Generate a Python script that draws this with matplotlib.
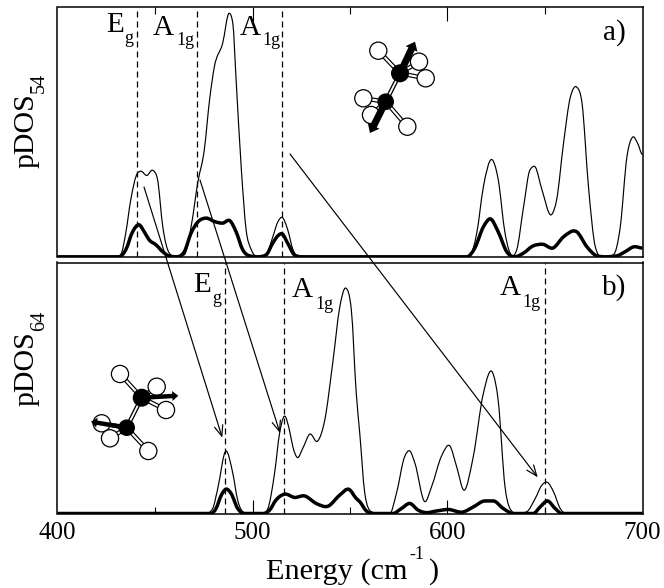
import numpy as np
import matplotlib
matplotlib.use("Agg")
import matplotlib.pyplot as plt
from matplotlib.path import Path
from matplotlib.patches import PathPatch, Circle

plt.rcParams['font.family'] = ['Liberation Serif', 'DejaVu Serif']

# ---- data ----
a_thin_x = [400,430,432.5,435,437.6,441,442.8,445.7,449,451.3,454,457.3,460.8,465,468.5,472,475.3,478,480.4,484.7,488,489.9,491.6,494.2,496.7,499.3,502.7,507,510.4,513,515.2,518,520.7,524,608,611.5,615,618.4,622.7,626,629.5,633,635.5,639,642.4,645,648.4,653.5,656,659.5,663,666.3,669,672.3,675.8,679,685,688.6,692,695,697.5,700]
a_thin_y = [0,0,1,9.5,23,33.5,34.3,32.6,34.6,31,12,1.5,0,0.8,12,30,43,63,76,85.6,97.6,93.6,70.9,36,11,3,0,0.8,8,14,15.8,11,3,0,0,0.6,9.5,28,39,31,9.5,0.4,2.8,20,35,36,27,17,23,45.5,64,68,61.5,28,4,0,0.8,12,40,48,45.5,41]
a_thick_x = [400,431.6,435,438.5,441.9,444.5,447,450.5,454,457,461,465,468.5,472,476,481,484.7,488.5,491.6,495,498.4,503,507,510.4,513,515.2,518,521.5,525,610,614,618.4,622,626,630.4,634.6,639,644,649,654,659.5,666.3,671.5,676.6,681,687,691,695.5,700]
a_thick_y = [0,0,2.8,10,12.8,10,6.8,4.8,2,0.4,0,2,9.5,14,15.5,14,13.5,14.4,10,2.8,0.4,0,0.8,5.5,8.4,9.2,5.5,0.8,0,0,3.5,12,15.2,10,2,0,1.5,4.4,5,3.5,8,10,4,0.4,0,0.4,2,4,3.5]
b_thin_x = [400,476,479.6,482,486.4,489.9,492.4,495.9,499.3,505.3,507.9,511.3,513.9,516.4,519,520.7,523,525.8,529.3,533.5,537,541.3,544.7,547.8,550.7,553.2,555,557.6,561,565.3,570.4,573.8,578,580.7,583.3,588.4,591.8,597,601.2,604.7,608.4,613.2,618.4,623.2,626,629.5,632,635.5,640.6,645,648.4,651.3,654.4,657.8,661,700]
b_thin_y = [0,0,2,9.3,24.9,16,5.3,0.3,0,0,2,16,32,38.8,33,26.6,22.3,26,31.6,28.9,37,61,82,89.8,81,48,32,8,0.7,0,0,8,22.6,24.9,20,4.7,10.6,23,26.9,18.6,9.3,22.6,47.9,56,45,10.6,2,0,0.7,6,11.3,12.4,8.6,2,0,0]
b_thick_x = [400,478.7,481.3,484,486.4,489,492.4,495.9,505.3,508.7,512,516.4,521.6,526.7,532.7,538.7,544.7,549.5,553.2,555,558.4,561.9,572,576.4,580.7,585,588.4,594.4,600.4,608,613.2,619.2,623.5,628.6,633.8,644,647.5,651.3,655.2,658.6,700]
b_thick_y = [0,0,2,7.3,9.7,8,2,0,0,1.3,5.3,7.7,6.4,7,4,2.9,7.3,9.6,6,4.7,1,0,0,2,4,1.3,0.4,1,1.6,0.6,2.6,5,5,2,0,0,2.6,5,2,0,0]
a_modes = [441, 471.6, 515.2]
b_modes = [486, 516, 650]
major_ticks = [500, 600]
minor_ticks = [450, 550, 650]
tick_labels = ['400', '500', '600', '700']
tick_values = [400, 500, 600, 700]


def smooth(x, y):
    """Bezier path through the read points (smooth parabolic tangents, limited)."""
    x = np.asarray(x, float); y = np.asarray(y, float)
    h = np.diff(x); d = np.diff(y) / h
    m = np.zeros_like(x)
    for i in range(1, len(x) - 1):
        if d[i-1] == 0 or d[i] == 0 or y[i] == 0:
            continue
        s = (h[i]*d[i-1] + h[i-1]*d[i]) / (h[i-1] + h[i])
        if d[i-1]*d[i] > 0:
            lim = 2.5*min(abs(d[i-1]), abs(d[i]))
            s = np.sign(s)*min(abs(s), lim)
        m[i] = s
    verts = [(x[0], y[0])]; codes = [Path.MOVETO]
    for i in range(len(h)):
        verts += [(x[i]+h[i]/3, y[i]+m[i]*h[i]/3),
                  (x[i+1]-h[i]/3, y[i+1]-m[i+1]*h[i]/3),
                  (x[i+1], y[i+1])]
        codes += [Path.CURVE4]*3
    return Path(verts, codes)


W, H = 664, 588
fig = plt.figure(figsize=(W/100, H/100), dpi=100)
L, R = 57.5, 642.5


def make_axes(top, bottom):
    return fig.add_axes([L/W, 1-bottom/H, (R-L)/W, (bottom-top)/H])


ax_a = make_axes(7.3, 257.3)
ax_b = make_axes(262.5, 514)

for ax, thin, thick, modes in ((ax_a, (a_thin_x, a_thin_y), (a_thick_x, a_thick_y), a_modes),
                               (ax_b, (b_thin_x, b_thin_y), (b_thick_x, b_thick_y), b_modes)):
    ax.set_xlim(400, 700)
    ax.set_ylim(-0.2, 100)
    ax.set_yticks([])
    for s in ax.spines.values():
        s.set_linewidth(1.1)
    ax.add_patch(PathPatch(smooth(*thin), fill=False, lw=0.85, ec='black'))
    ax.add_patch(PathPatch(smooth(*thick), fill=False, lw=2.5, ec='black'))
    for m in modes:
        ax.axvline(m, color='black', lw=0.9, dashes=(4.8, 3.2))

ax_a.xaxis.tick_top()
ax_a.set_xticks(major_ticks)
ax_a.set_xticklabels([])
ax_a.set_xticks(minor_ticks, minor=True)
ax_a.tick_params(axis='x', which='major', direction='in', length=10, width=0.8, top=True, labeltop=False)
ax_a.tick_params(axis='x', which='minor', direction='in', length=5, width=0.8, top=True)

ax_b.set_xticks(tick_values)
ax_b.set_xticklabels(tick_labels, fontsize=18)
ax_b.set_xticks(minor_ticks, minor=True)
ax_b.tick_params(axis='x', which='major', direction='in', length=10, width=0.8, pad=6)
ax_b.tick_params(axis='x', which='minor', direction='in', length=5, width=0.8)
for i in (0, -1):
    ax_b.xaxis.get_major_ticks()[i].tick1line.set_visible(False)

# overlay in pixel coordinates for annotations crossing the panels
ov = fig.add_axes([0, 0, 1, 1], zorder=5)
ov.set_xlim(0, W); ov.set_ylim(H, 0); ov.axis('off'); ov.patch.set_alpha(0)


def t(x, y, s, size=21, **kw):
    ov.text(x, y, s, fontsize=size, ha='left', va='baseline', color='black', **kw)


for x, y, s, sx, sy, ss in [(106, 32.5, 'E', 124.5, 43, 'g'),
                            (152.7, 35, 'A', 176.7, 45, '1g'),
                            (240, 35, 'A', 262.7, 45, '1g'),
                            (193, 292.3, 'E', 212.3, 303, 'g'),
                            (291.7, 297.3, 'A', 315, 309, '1g'),
                            (499.3, 295, 'A', 522.7, 306.7, '1g')]:
    t(x, y, s)
    t(sx, sy, ss, size=13)
t(602.7, 40, 'a)')
t(601.7, 295, 'b)')

for ax, s, y, sub, sy in ((ax_a, 'pDOS', 168, '54', 93), (ax_b, 'pDOS', 406, '64', 331)):
    ax.set_ylabel(s, fontsize=21.5, rotation=90, ha='left', va='baseline', rotation_mode='anchor')
    ax.yaxis.set_label_coords(33, y, transform=ov.transData)
    t(44, sy, sub, size=14.5, rotation=90, rotation_mode='anchor')

ax_b.set_xlabel('Energy (cm', fontsize=21.8, ha='left', va='baseline')
ax_b.xaxis.set_label_coords(266, 579, transform=ov.transData)
t(409, 559, '-1', size=13)
t(428, 579, ')', size=21.8)

for start, end in [((144, 187), (222.3, 437.7)),
                   ((200, 180), (280, 433)),
                   ((290, 154), (537.7, 477.3))]:
    ov.annotate('', xy=end, xytext=start,
                arrowprops=dict(arrowstyle='->,head_length=0.55,head_width=0.22', lw=0.85, color='black',
                                shrinkA=0, shrinkB=0, mutation_scale=14))


def molecule(H_atoms, C_atoms, bonded, tips, shaft, head_w, head_l):
    for (hx, hy), c in zip(H_atoms, bonded):
        cx, cy = C_atoms[c]
        ov.plot([hx, cx], [hy, cy], color='black', lw=3.2, zorder=2.1, solid_capstyle='butt')
        ov.plot([hx, cx], [hy, cy], color='white', lw=1.5, zorder=2.2, solid_capstyle='butt')
        ov.add_patch(Circle((hx, hy), 8.6, fc='white', ec='black', lw=0.9, zorder=2.3))
    (x1, y1), (x2, y2) = C_atoms
    ov.plot([x1, x2], [y1, y2], color='black', lw=3.2, zorder=2.4)
    ov.plot([x1, x2], [y1, y2], color='white', lw=1.3, zorder=2.5)
    for (cx, cy), r in zip(C_atoms, (8.3, 7.6)):
        ov.add_patch(Circle((cx, cy), r, fc='black', ec='black', zorder=3))
    for (cx, cy), (tx, ty) in zip(C_atoms, tips):
        ov.arrow(cx, cy, tx-cx, ty-cy, width=shaft, head_width=head_w, head_length=head_l,
                 length_includes_head=True, fc='black', ec='black', lw=0, zorder=4)


molecule([(378.3, 50.7), (419, 61.7), (425.7, 78.3), (363.3, 98.3), (371, 115), (407.3, 126.7)],
         [(400, 73.3), (385.7, 101.7)], [0, 0, 0, 1, 1, 1],
         [(415, 41.7), (370, 133)], 7, 13, 8)
molecule([(120, 374), (156.7, 386.7), (166, 410), (101.7, 423.3), (110, 438.3), (148.3, 451)],
         [(141.7, 397.7), (126.7, 427.7)], [0, 0, 0, 1, 1, 1],
         [(178.3, 395.7), (91, 421.7)], 4.5, 10, 6)
ov.set_xlim(0, W); ov.set_ylim(H, 0)

fig.savefig('out.png', dpi=100)
